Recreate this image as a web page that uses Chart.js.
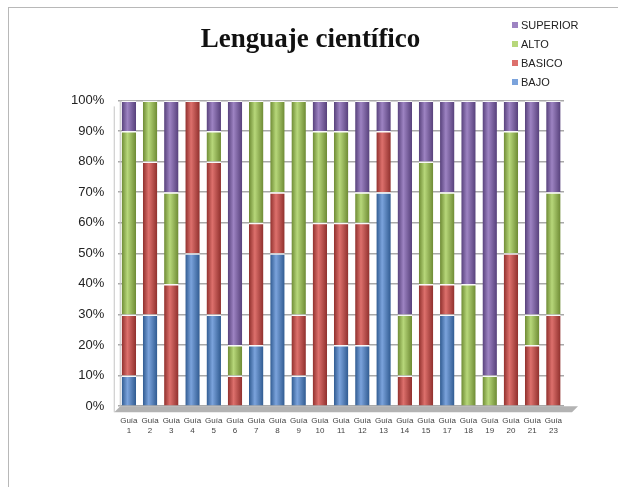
<!DOCTYPE html>
<html>
<head>
<meta charset="utf-8">
<script src="https://cdn.jsdelivr.net/npm/chart.js@4/dist/chart.umd.min.js"></script>
<style>
  html, body { margin: 0; padding: 0; background: #fff; }
  #wrap { position: relative; width: 618px; height: 487px; overflow: hidden; }
  #frame { position: absolute; left: 8px; top: 7px; width: 640px; height: 500px;
           border-left: 1px solid #b8b8b8; border-top: 1px solid #b8b8b8; }
  #chart { position: absolute; left: 0; top: 0; }
  #legend { position: absolute; left: 512px; top: 16px; font-family: "Liberation Sans", Arial, sans-serif;
            font-size: 11px; color: #222; line-height: 19px; }
  #legend span.sw { display: inline-block; width: 6px; height: 6px; margin-right: 3px; vertical-align: 1px; }
</style>
</head>
<body>
<div id="wrap">
  <div id="frame"></div>
  <canvas id="chart" width="618" height="487"></canvas>
  <div id="legend"></div>
</div>
<script>
var guias = ['1','2','3','4','5','6','7','8','9','10','11','12','13','14','15','17','18','19','20','21','23'];
var bajo     = [10,30, 0,50,30, 0,20,50,10, 0,20,20,70, 0, 0,30, 0, 0, 0, 0, 0];
var basico   = [20,50,40,50,50,10,40,20,20,60,40,40,20,10,40,10, 0, 0,50,20,30];
var alto     = [60,20,30, 0,10,10,40,30,70,30,30,10, 0,20,40,30,40,10,40,10,40];
var superior = [10, 0,30, 0,10,80, 0, 0, 0,10,10,30,10,70,20,30,60,90,10,70,30];
var yTicks = ['0%','10%','20%','30%','40%','50%','60%','70%','80%','90%','100%'];

var seriesNames = ['BAJO', 'BASICO', 'ALTO', 'SUPERIOR'];
var seriesData = [bajo, basico, alto, superior];
var seriesColors = [
  ['#3a69a6', '#7ba3dc', '#2f5a90'],
  ['#a63c39', '#dd706c', '#8f2f2c'],
  ['#7f9f3f', '#b7d77a', '#6d8a33'],
  ['#664d8a', '#9d83c2', '#56407a']
];
var labels = guias.map(function(n){ return ['Guía', n]; });

var BAR_PCT = 0.68;

function cylinder(i){
  return function(ctx){
    var chart = ctx.chart;
    var xs = chart.scales.x;
    if (!xs || ctx.dataIndex === undefined) return seriesColors[i][0];
    var cx = xs.getPixelForValue(ctx.dataIndex);
    var w = (xs.width / labels.length) * BAR_PCT;
    if (!isFinite(cx) || !isFinite(w) || w <= 0) return seriesColors[i][0];
    var g = chart.ctx.createLinearGradient(cx - w/2, 0, cx + w/2, 0);
    g.addColorStop(0, seriesColors[i][2]);
    g.addColorStop(0.4, seriesColors[i][1]);
    g.addColorStop(1, seriesColors[i][2]);
    return g;
  };
}

var datasets = seriesNames.map(function(name, i){
  return {
    label: name,
    data: seriesData[i],
    backgroundColor: cylinder(i),
    borderColor: 'rgba(255,255,255,0.85)',
    borderWidth: {top: 1.5, left: 0, right: 0, bottom: 0},
    borderSkipped: 'start',
    barPercentage: BAR_PCT,
    categoryPercentage: 1
  };
});

// grey floor under the bars, like the 3d base
var floorPlugin = {
  id: 'floor',
  beforeDatasetsDraw: function(chart){
    var a = chart.chartArea, c = chart.ctx;
    c.save();
    c.fillStyle = '#b3b3b3';
    c.beginPath();
    c.moveTo(a.left - 4, a.bottom + 6);
    c.lineTo(a.left + 2, a.bottom);
    c.lineTo(a.right + 14, a.bottom);
    c.lineTo(a.right + 8, a.bottom + 6);
    c.closePath();
    c.fill();
    c.strokeStyle = '#c4c4c4';
    c.lineWidth = 1;
    c.beginPath();
    c.moveTo(a.left + 2, a.top);
    c.lineTo(a.left + 2, a.bottom);
    c.moveTo(a.left - 4, a.top + 6);
    c.lineTo(a.left - 4, a.bottom + 6);
    c.stroke();
    c.restore();
  }
};

new Chart(document.getElementById('chart'), {
  type: 'bar',
  data: { labels: labels, datasets: datasets },
  plugins: [floorPlugin],
  options: {
    responsive: false,
    animation: false,
    layout: { padding: { left: 57, right: 54, top: 20, bottom: 50 } },
    plugins: {
      legend: { display: false },
      tooltip: { enabled: false },
      title: {
        display: true,
        text: 'Lenguaje científico',
        font: { family: '"Liberation Serif", serif', size: 27, weight: 'bold' },
        color: '#111',
        padding: { top: 4, bottom: 44 }
      }
    },
    scales: {
      x: {
        stacked: true,
        grid: { display: false },
        border: { display: false },
        ticks: {
          color: '#444',
          font: { family: '"Liberation Sans", Arial, sans-serif', size: 8, lineHeight: 1.3 },
          maxRotation: 0,
          autoSkip: false,
          padding: 1
        }
      },
      y: {
        stacked: true,
        min: 0,
        max: 100,
        grid: { color: '#a9a9a9', lineWidth: 1.5, drawTicks: false },
        border: { display: false },
        ticks: {
          stepSize: 10,
          color: '#222',
          padding: 14,
          font: { family: '"Liberation Sans", Arial, sans-serif', size: 13 },
          callback: function(v){ return yTicks[v / 10]; }
        }
      }
    }
  }
});

var leg = document.getElementById('legend');
for (var i = seriesNames.length - 1; i >= 0; i--) {
  var row = document.createElement('div');
  row.innerHTML = '<span class="sw" style="background:' + seriesColors[i][1] + '"></span>' + seriesNames[i];
  leg.appendChild(row);
}
</script>
</body>
</html>
